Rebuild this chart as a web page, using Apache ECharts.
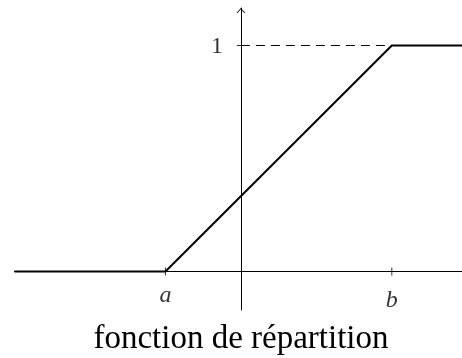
<!DOCTYPE html>
<html><head><meta charset="utf-8">
<script src="https://cdn.jsdelivr.net/npm/echarts@6/dist/echarts.min.js"></script>
<style>html,body{margin:0;padding:0;background:#fff}#c{width:462px;height:358px}</style>
</head><body><div id="c"></div>
<script>
const xTickValues = [-1, 2];
const xTickLabels = ['a', 'b'];
const yTickValues = [1];
const yTickLabels = ['1'];
const cdfX = [-3, -1, 2, 2.93];
const cdfY = [0, 0, 1, 1];
const guideX = [0, 2];
const guideY = [1, 1];
const titleText = 'fonction de répartition';
const xRange = [-3, 2.93];
const yRange = [-0.1704, 1.1659];

const serif = '"Liberation Serif", "DejaVu Serif", serif';
// TeX-like "below" anchoring: label boxes aligned by their top, so glyphs
// with ascenders sit lower than x-height-only glyphs.
const labelShift = t => (/[bdfhklt]/.test(t) ? 7 : 2);

const chart = echarts.init(document.getElementById('c'), null, {renderer: 'canvas'});
chart.setOption({
  animation: false,
  backgroundColor: '#fff',
  title: {
    text: titleText,
    left: 241,
    textAlign: 'center',
    top: 323,
    padding: 0,
    textStyle: {fontFamily: serif, fontSize: 33, fontWeight: 'normal', color: '#000'}
  },
  grid: {left: 14.5, right: 0, top: 8, bottom: 48, containLabel: false, outerBoundsMode: 'none'},
  xAxis: {
    type: 'value', min: xRange[0], max: xRange[1],
    axisLine: {show: true, onZero: true, lineStyle: {color: '#000', width: 1}},
    axisTick: {show: false},
    splitLine: {show: false},
    axisLabel: {show: false}
  },
  yAxis: {
    type: 'value', min: yRange[0], max: yRange[1],
    axisLine: {
      show: true, onZero: true, lineStyle: {color: '#000', width: 1},
      symbol: ['none', 'path://M4.5,0 L9,5 L8,5 L4.5,1.2 L1,5 L0,5 Z'],
      symbolSize: [9, 5], symbolOffset: [0, -2.5]
    },
    axisTick: {show: false},
    splitLine: {show: false},
    axisLabel: {show: false}
  },
  series: [
    {
      type: 'line', data: guideX.map((x, i) => [x, guideY[i]]), symbol: 'none', z: 1,
      lineStyle: {color: '#000', width: 1, type: [9, 6]}, silent: true
    },
    {
      type: 'line', data: cdfX.map((x, i) => [x, cdfY[i]]), symbol: 'none', z: 3,
      lineStyle: {color: '#000', width: 2, join: 'round'}, silent: true
    },
    {
      type: 'scatter', symbol: 'rect', symbolSize: [1, 8], z: 4,
      data: xTickValues.map((v, i) => ({
        value: [v, 0],
        label: {offset: [0, labelShift(xTickLabels[i])]}
      })),
      itemStyle: {color: '#000'}, silent: true,
      label: {
        show: true, position: 'bottom', distance: 6,
        formatter: p => xTickLabels[p.dataIndex],
        fontFamily: serif, fontStyle: 'italic', fontSize: 24, color: '#000'
      }
    },
    {
      type: 'scatter', data: yTickValues.map(v => [0, v]), symbol: 'rect', symbolSize: [8, 1], z: 4,
      itemStyle: {color: '#000'}, silent: true,
      label: {
        show: true, position: 'left', distance: 14, offset: [0, 1],
        formatter: p => yTickLabels[p.dataIndex],
        fontFamily: serif, fontSize: 24, color: '#000'
      }
    }
  ]
});
</script></body></html>
